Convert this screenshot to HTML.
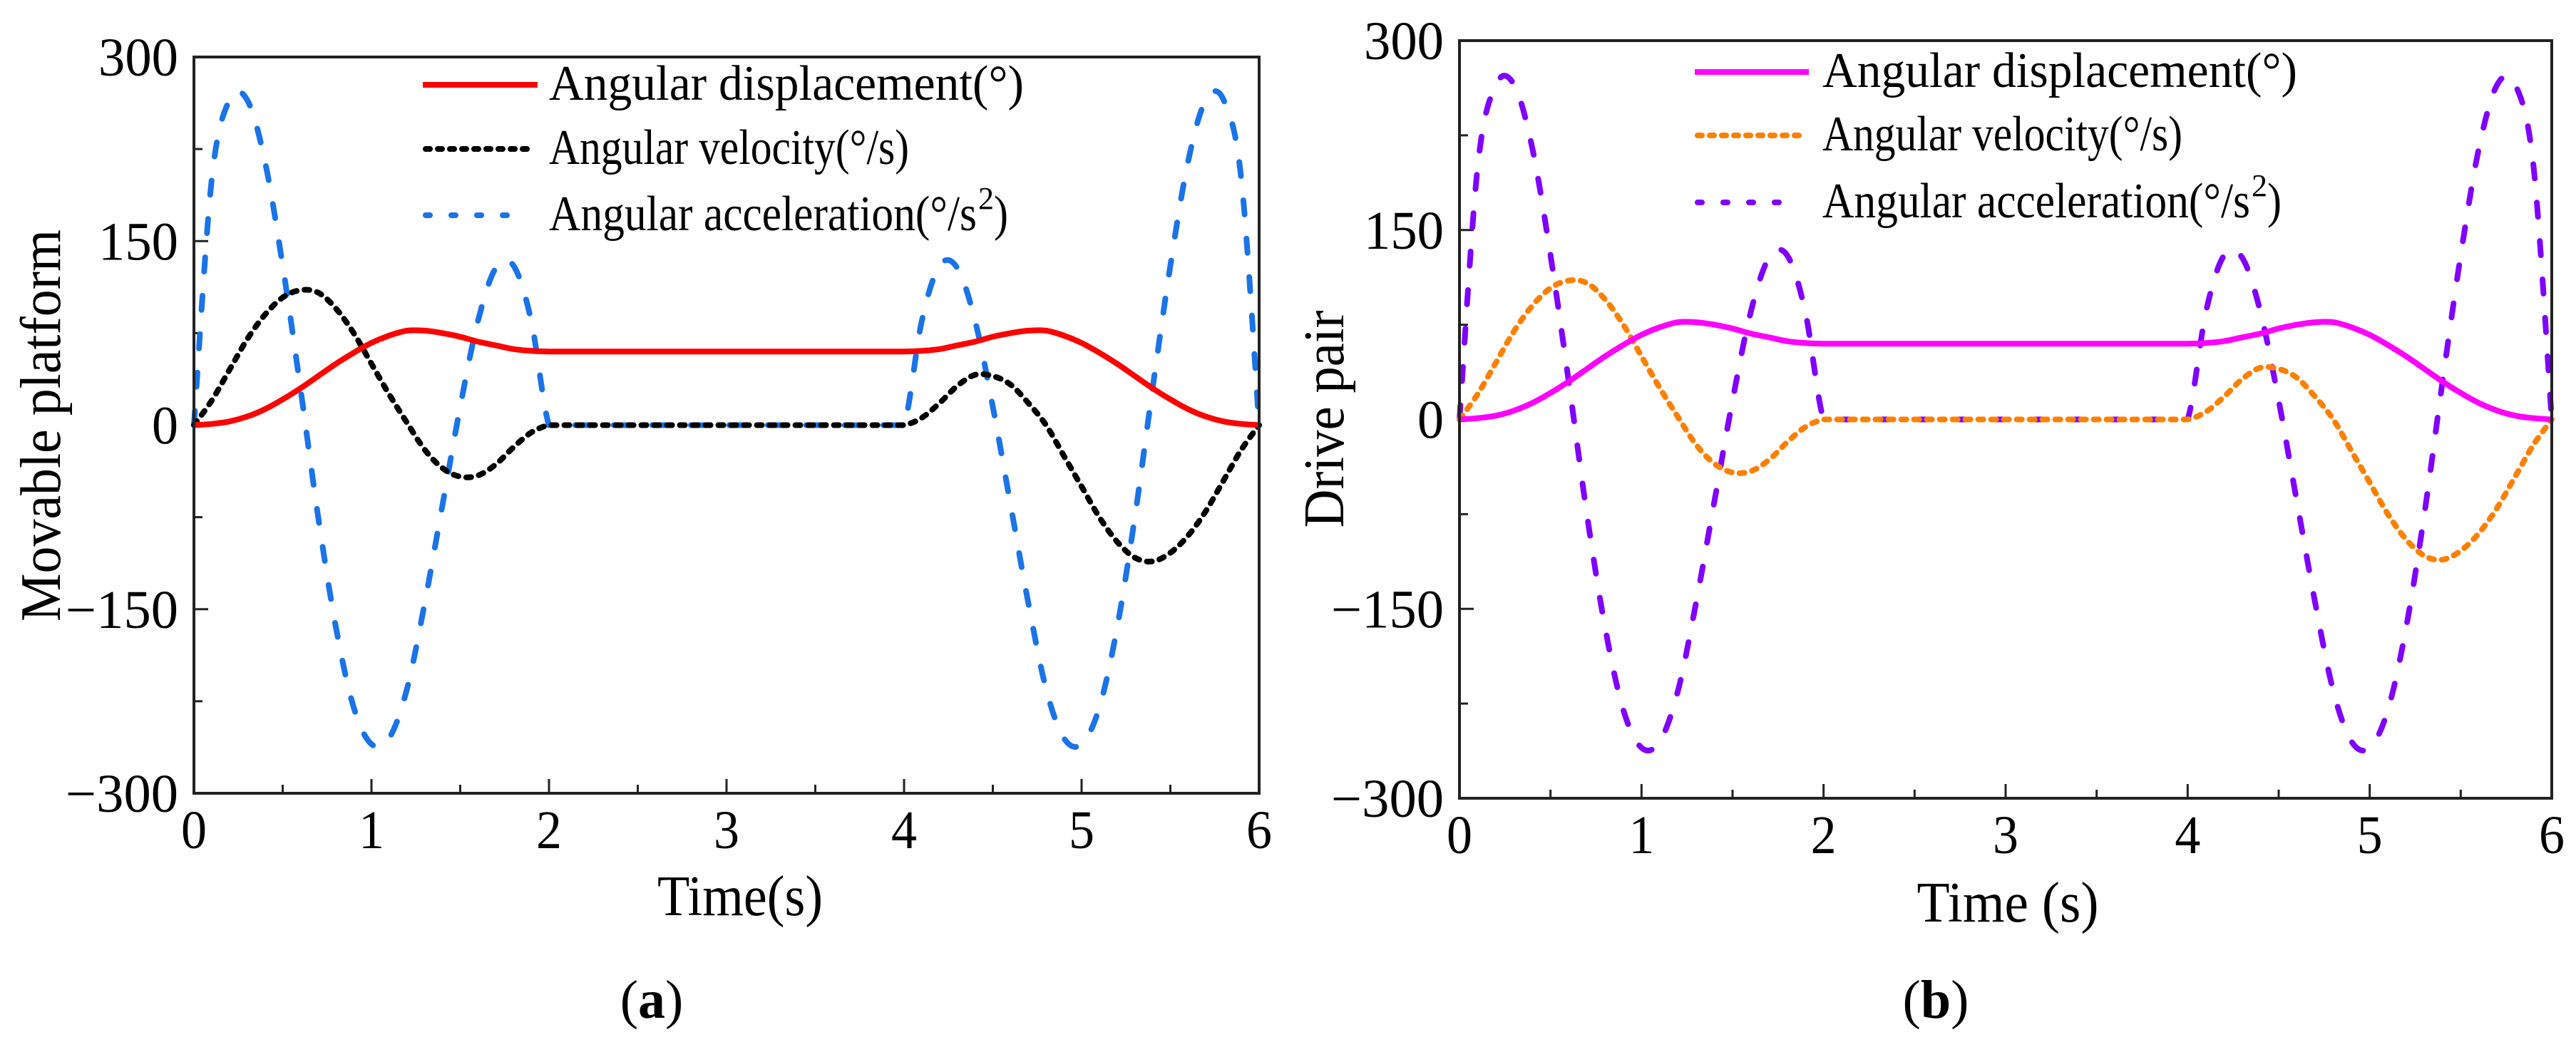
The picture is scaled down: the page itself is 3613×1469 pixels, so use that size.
<!DOCTYPE html>
<html><head><meta charset="utf-8"><style>
html,body{margin:0;padding:0;background:#fff;}
svg{display:block;font-family:"Liberation Serif",serif;}
</style></head><body>
<svg id="fig" width="3613" height="1469" viewBox="0 0 3613 1469" xmlns="http://www.w3.org/2000/svg"></svg>
<script>
const times = [0,0.1,0.2,0.3,0.4,0.5,0.6,0.7,0.8,0.9,1.0,1.1,1.2,1.3,1.4,1.5,1.6,1.7,1.8,1.9,2.0,2.1,2.2,2.3,2.4,2.5,2.6,2.7,2.8,2.9,3.0,3.1,3.2,3.3,3.4,3.5,3.6,3.7,3.8,3.9,4.0,4.1,4.2,4.3,4.4,4.5,4.6,4.7,4.8,4.9,5.0,5.1,5.2,5.3,5.4,5.5,5.6,5.7,5.8,5.9,6.0];
const displacement = [0,1,3,7,13,21,30,40,50,59,67,73,77,77,75,72,68,65,62,60.5,60,60,60,60,60,60,60,60,60,60,60,60,60,60,60,60,60,60,60,60,60,60.5,62,65,68,72,75,77,77,73,67,59,50,40,30,21,13,7,3,1,0];
const velocity = [0,20,45,70,90,104,110,108,95,75,50,25,2,-20,-35,-42,-41,-32,-18,-6,0,0,0,0,0,0,0,0,0,0,0,0,0,0,0,0,0,0,0,0,0,6,18,32,41,40,33,18,0,-25,-50,-75,-95,-108,-111,-104,-90,-70,-45,-20,0];
const acceleration = [0,200,265,265,215,130,30,-75,-165,-230,-260,-255,-215,-145,-65,15,85,128,130,85,0,0,0,0,0,0,0,0,0,0,0,0,0,0,0,0,0,0,0,0,0,85,130,128,85,15,-65,-145,-215,-255,-260,-230,-165,-75,30,130,215,265,265,200,0];
const xTicks = [0,1,2,3,4,5,6];
const yTicks = [-300,-150,0,150,300];
const legendLabels = ["Angular displacement(°)","Angular velocity(°/s)","Angular acceleration(°/s"];

const NS="http://www.w3.org/2000/svg";
const svg=document.getElementById('fig');
function mk(tag,attrs,parent){const e=document.createElementNS(NS,tag);for(const k in attrs)e.setAttribute(k,attrs[k]);(parent||svg).appendChild(e);return e;}

function smoothPath(pts){
  let d=`M${pts[0][0].toFixed(1)},${pts[0][1].toFixed(1)}`;
  const eq=(a,b)=>Math.abs(a[1]-b[1])<0.01;
  for(let i=0;i<pts.length-1;i++){
    const p0=pts[Math.max(0,i-1)],p1=pts[i],p2=pts[i+1],p3=pts[Math.min(pts.length-1,i+2)];
    if(eq(p1,p2)&&(eq(p0,p1)||eq(p2,p3))){d+=`L${p2[0].toFixed(1)},${p2[1].toFixed(1)}`;continue;}
    const c1=[p1[0]+(p2[0]-p0[0])/6,p1[1]+(p2[1]-p0[1])/6];
    const c2=[p2[0]-(p3[0]-p1[0])/6,p2[1]-(p3[1]-p1[1])/6];
    d+=`C${c1[0].toFixed(1)},${c1[1].toFixed(1)} ${c2[0].toFixed(1)},${c2[1].toFixed(1)} ${p2[0].toFixed(1)},${p2[1].toFixed(1)}`;
  }
  return d;
}

function panel(cfg){
  const g=mk('g',{});
  
  
  const X=t=>cfg.x0+(t-0)/(6-0)*(cfg.x1-cfg.x0);
  const Y=v=>cfg.y1-(v+300)/600*(cfg.y1-cfg.y0);
  for(let t=0;t<=6.001;t+=0.5){
    const major=Math.abs(t-Math.round(t))<1e-6;
    const tk=mk('line',{x1:X(t),x2:X(t),y1:cfg.y1,y2:cfg.y1-(major?20:12),stroke:'#222','stroke-width':3},g);
    
    
  }
  for(let v=-300;v<=300;v+=75){
    const major=v%150===0;
    const tk=mk('line',{x1:cfg.x0,x2:cfg.x0+(major?20:12),y1:Y(v),y2:Y(v),stroke:'#222','stroke-width':3},g);
    
    
  }
  xTicks.forEach(t=>{
    const tx=mk('text',{x:X(t),y:cfg.y1+77,'font-size':76,'text-anchor':'middle',fill:'#000',textLength:36,lengthAdjust:'spacingAndGlyphs'},g);
    tx.textContent=t;
    
    
  });
  yTicks.forEach(v=>{
    const s=v<0?'\u2212'+Math.abs(v):String(v);
    const w=v===0?37:(v<0?158:112);
    const tx=mk('text',{x:cfg.x0-22,y:Y(v)+26,'font-size':76,'text-anchor':'end',fill:'#000',textLength:w,lengthAdjust:'spacingAndGlyphs'},g);
    tx.textContent=s;
    
    
  });
  const series=[
    {vals:displacement,color:cfg.c1,dash:'',w:8,name:'displacement-line'},
    {vals:velocity,color:cfg.c2,dash:'7 11',w:8,name:'velocity-line'},
    {vals:acceleration,color:cfg.c3,dash:'20 34',w:8,name:'acceleration-line'}
  ];
  [2,1,0].forEach(i=>{
    const s=series[i];
    const pts=times.map((t,k)=>[X(t),Y(s.vals[k])]);
    const p=mk('path',{d:smoothPath(pts),fill:'none',stroke:s.color,'stroke-width':s.w,'stroke-dasharray':s.dash,'stroke-linecap':s.dash?'round':'butt','stroke-linejoin':'round'},g);
    
    
  });
  const fr=mk('rect',{x:cfg.x0,y:cfg.y0,width:cfg.x1-cfg.x0,height:cfg.y1-cfg.y0,fill:'none',stroke:'#222','stroke-width':4},g);
  
  
  const lg=mk('g',{},g);
  
  
  const widths=[666,505,600];
  const swEnd=[cfg.legX1,cfg.legX1-13,cfg.legX1-39];
  const swDash=['','6 11','6 30'];
  for(let i=0;i<3;i++){
    const yb=cfg.legY[i];
    const s=series[i];
    const ln=mk('line',{x1:cfg.legX0+(swDash[i]?4:0),x2:swEnd[i],y1:yb-21,y2:yb-21,stroke:s.color,'stroke-width':8,'stroke-dasharray':swDash[i],'stroke-linecap':swDash[i]?'round':'butt'},lg);
    
    
    const tx=mk('text',{x:cfg.legT,y:yb,'font-size':70,fill:'#000',textLength:widths[i],lengthAdjust:'spacingAndGlyphs'},lg);
    tx.textContent=legendLabels[i];
    
    
    if(i===2){
      const sup=mk('text',{x:cfg.legT+widths[i]+2,y:yb-30,'font-size':44,fill:'#000'},lg);
      sup.textContent='2';
      
      
      const cp=mk('text',{x:cfg.legT+widths[i]+24,y:yb,'font-size':70,fill:'#000',textLength:20,lengthAdjust:'spacingAndGlyphs'},lg);
      cp.textContent=')';
      
      
    }
  }
  const xt=mk('text',{x:cfg.xtX,y:cfg.xtY,'font-size':80,'text-anchor':'middle',fill:'#000',textLength:cfg.xtW,lengthAdjust:'spacingAndGlyphs'},g);
  xt.textContent=cfg.xTitle;
  
  
  const yt=mk('text',{x:0,y:0,'font-size':80,'text-anchor':'middle',fill:'#000',transform:`translate(${cfg.ytX},${cfg.ytY}) rotate(-90)`,textLength:cfg.ytW,lengthAdjust:'spacingAndGlyphs'},g);
  yt.textContent=cfg.yTitle;
  
  
  const cap=mk('text',{x:cfg.capX,y:1428,'font-size':76,'text-anchor':'middle',fill:'#000'},g);
  cap.innerHTML=`(<tspan font-weight="bold">${cfg.cap}</tspan>)`;
  
  
}

panel({name:'panel-a',x0:272,x1:1766,y0:80,y1:1113,c1:'#ff0000',c2:'#000000',c3:'#1a73e8',
  legX0:593,legX1:754,legT:770,legY:[140,230,323],
  xTitle:'Time(s)',xtX:1038,xtY:1284,xtW:232,yTitle:'Movable platform',ytX:84,ytY:597,ytW:550,capX:914,cap:'a'});
panel({name:'panel-b',x0:2047,x1:3579,y0:57,y1:1120,c1:'#ff00ff',c2:'#ff8000',c3:'#8000ff',
  legX0:2377,legX1:2537,legT:2556,legY:[122,211,305],
  xTitle:'Time (s)',xtX:2816,xtY:1293,xtW:255,yTitle:'Drive pair',ytX:1884,ytY:588,ytW:305,capX:2715,cap:'b'});
</script>
</body></html>
